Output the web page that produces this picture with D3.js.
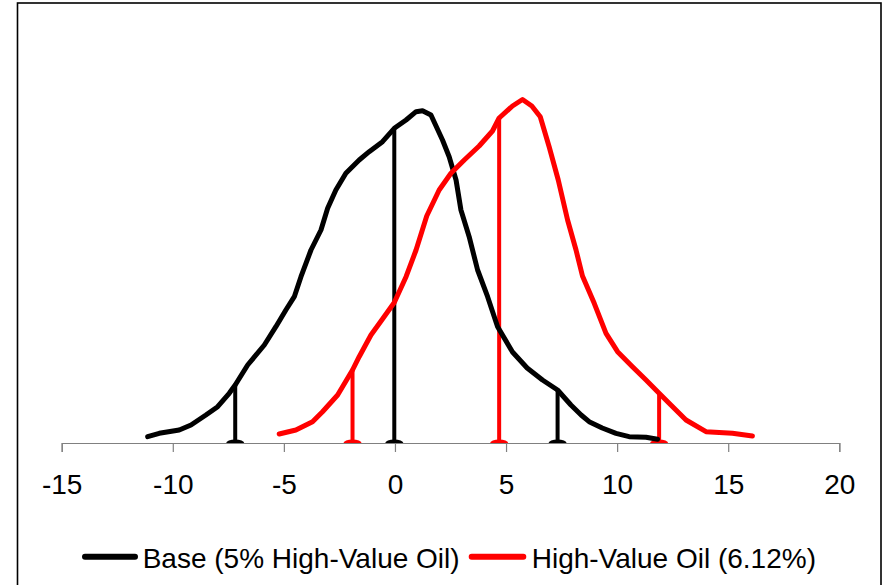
<!DOCTYPE html>
<html><head><meta charset="utf-8">
<script src="https://cdn.jsdelivr.net/npm/d3@7"></script>
<style>body{margin:0;background:#fff}svg{display:block}text{font-family:"Liberation Sans",Arial,sans-serif}</style>
</head><body><svg id="c" width="885" height="585"></svg>
<script>
// Black series: Base (5% High-Value Oil)
const baseX = [-11.13,-10.61,-9.71,-9.18,-8.51,-7.98,-7.46,-7.19,-6.63,-5.88,-5.36,-4.91,-4.53,-4.23,-3.78,-3.33,-3.03,-2.66,-2.21,-1.61,-1.16,-0.56,-0.03,0.50,0.95,1.24,1.62,2.14,2.44,2.75,2.97,3.34,3.72,4.17,4.62,5.29,5.95,6.64,7.32,7.92,8.38,8.74,9.33,9.95,10.54,11.30,11.82];
const baseY = [0.063,0.097,0.13,0.18,0.28,0.363,0.497,0.58,0.78,0.98,1.163,1.33,1.463,1.663,1.93,2.13,2.347,2.53,2.697,2.83,2.913,3.013,3.147,3.23,3.313,3.323,3.28,3.03,2.863,2.63,2.33,2.063,1.73,1.463,1.163,0.91,0.75,0.63,0.53,0.38,0.28,0.213,0.15,0.097,0.063,0.057,0.037];
// Red series: High-Value Oil (6.12%)
const hvX = [-5.21,-4.46,-3.71,-3.26,-2.58,-1.91,-1.61,-1.08,-0.56,-0.03,0.50,0.95,1.43,1.99,2.52,3.12,3.79,4.39,4.69,5.29,5.74,6.16,6.54,6.94,7.35,7.77,8.15,8.44,8.97,9.50,10.02,10.69,11.30,11.89,12.42,13.10,14.00,15.19,16.09];
const hvY = [0.09,0.13,0.213,0.313,0.48,0.73,0.863,1.08,1.24,1.405,1.663,1.93,2.27,2.53,2.697,2.83,2.97,3.12,3.25,3.37,3.435,3.37,3.263,2.963,2.63,2.23,1.93,1.67,1.397,1.097,0.913,0.763,0.63,0.497,0.38,0.23,0.113,0.097,0.07];
// Percentile markers (5th, 50th, 95th)
const basePctX = [-7.19,-0.03,7.32];
const basePctY = [0.58,3.147,0.53];
const hvPctX = [-1.91,4.69,11.89];
const hvPctY = [0.73,3.25,0.497];
const xTicks = [-15,-10,-5,0,5,10,15,20];
const seriesNames = ["Base (5% High-Value Oil)","High-Value Oil (6.12%)"];
const colors = ["#000000","#ff0000"];

const svg = d3.select("#c");
const x = d3.scaleLinear().domain([-15,20]).range([61.7,839.3]);
const y = d3.scaleLinear().domain([0,4.4]).range([443,3]);

svg.append("rect").attr("x",17.5).attr("y",3).attr("width",863.5).attr("height",620)
  .attr("fill","none").attr("stroke","#000").attr("stroke-width",1.6);

const axis = d3.axisBottom(x).tickValues(xTicks).tickSize(9).tickPadding(22).tickFormat(d => String(d));
const ag = svg.append("g").attr("transform",`translate(0,${y(0)})`).call(axis);
ag.select(".domain").attr("stroke","#808080").attr("stroke-width",1.2);
ag.selectAll(".tick line").attr("stroke","#808080").attr("stroke-width",1.2);
ag.selectAll(".tick text").attr("font-size",28).attr("fill","#000")
  .attr("font-family","'Liberation Sans',Arial,sans-serif");

const line = d3.line().x(d=>x(d[0])).y(d=>y(d[1]));
const sets = [
  {xs:baseX, ys:baseY, px:basePctX, py:basePctY, c:colors[0]},
  {xs:hvX, ys:hvY, px:hvPctX, py:hvPctY, c:colors[1]}
];
sets.forEach(s=>{
  const g = svg.append("g");
  s.px.forEach((v,i)=>{
    g.append("line").attr("x1",x(v)).attr("x2",x(v)).attr("y1",y(0)).attr("y2",y(s.py[i]))
      .attr("stroke",s.c).attr("stroke-width",4);
    g.append("path")
      .attr("d",`M${x(v)-9},${y(0)} A9,3.5 0 0 1 ${x(v)+9},${y(0)} Z`)
      .attr("fill",s.c);
  });
});
sets.forEach(s=>{
  svg.append("path").datum(s.xs.map((v,i)=>[v,s.ys[i]])).attr("d",line)
    .attr("fill","none").attr("stroke",s.c).attr("stroke-width",5)
    .attr("stroke-linejoin","round").attr("stroke-linecap","round");
});

const legendItems = [{x1:85,x2:135,tx:142.7},{x1:471.7,x2:523.3,tx:531.7}];
legendItems.forEach((L,i)=>{
  svg.append("line").attr("x1",L.x1).attr("x2",L.x2).attr("y1",556.7).attr("y2",556.7)
    .attr("stroke",colors[i]).attr("stroke-width",6).attr("stroke-linecap","round");
  svg.append("text").attr("x",L.tx).attr("y",568).attr("font-size",28).attr("fill","#000").text(seriesNames[i]);
});
</script></body></html>
